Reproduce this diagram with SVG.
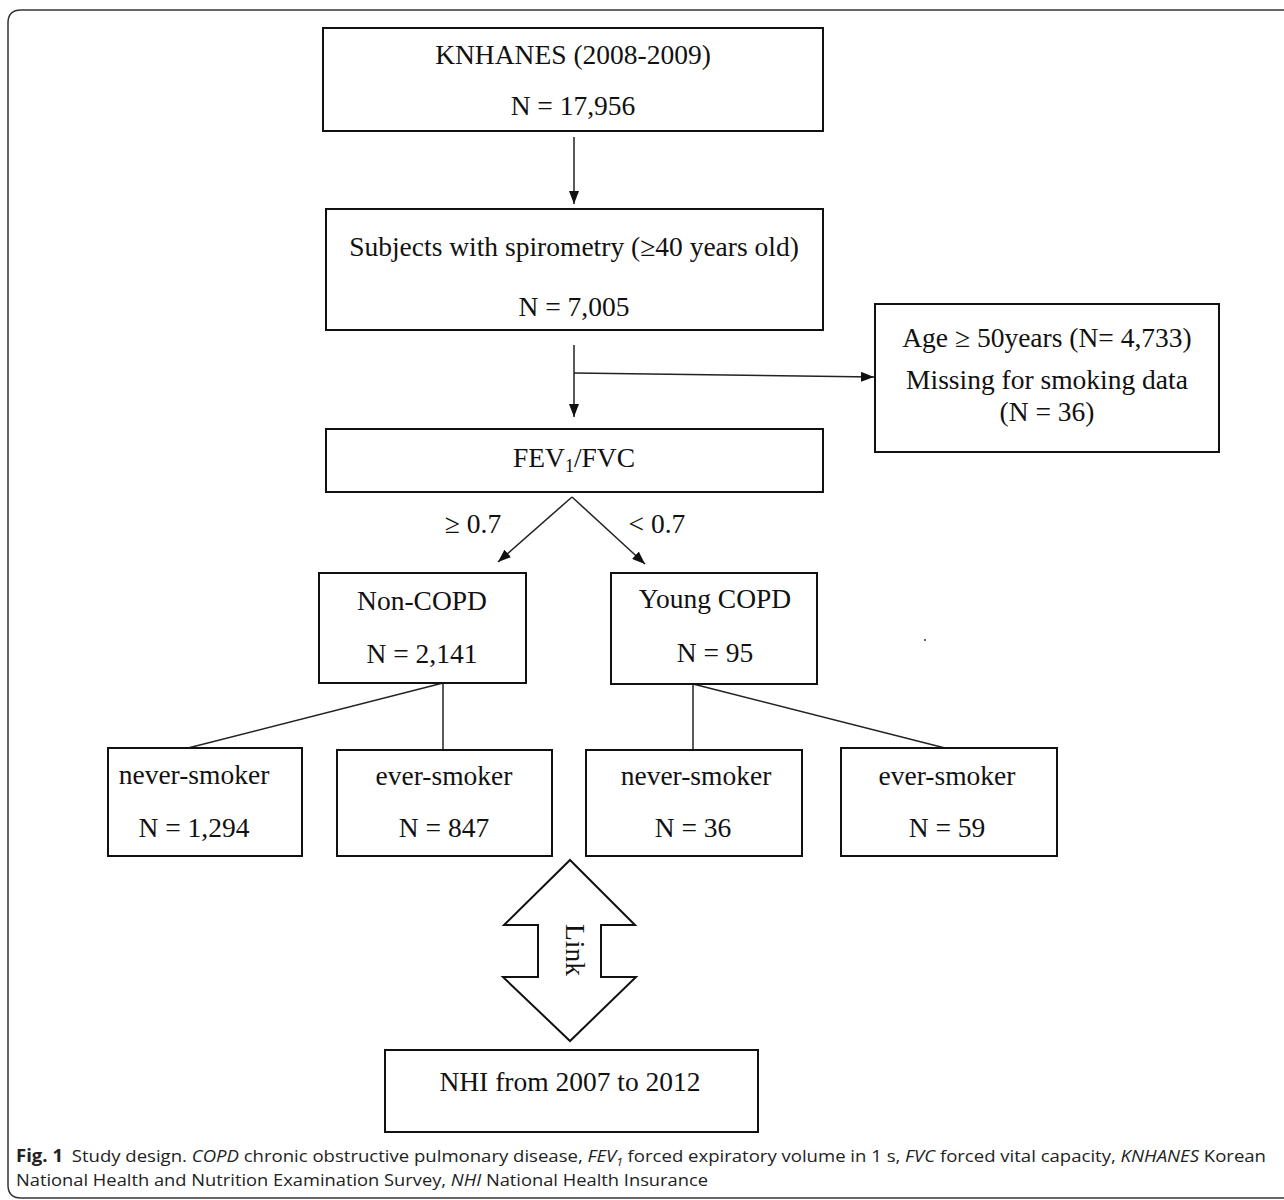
<svg xmlns="http://www.w3.org/2000/svg" width="1284" height="1200" viewBox="0 0 1284 1200">
<style>
.box{fill:#fff;stroke:#111;stroke-width:2}
.t{font-family:"Liberation Serif","Times New Roman",serif;font-size:27.5px;fill:#111;text-anchor:middle}
.ln{stroke:#222;stroke-width:1.5;fill:none}
.cap{font-family:"Open Sans","Noto Sans",sans-serif;font-size:17px;fill:#222}
</style>
<defs>
<marker id="ah" viewBox="0 0 13 10" refX="13" refY="5" markerWidth="13" markerHeight="10" markerUnits="userSpaceOnUse" orient="auto">
<path d="M0,0 L13,5 L0,10 Z" fill="#111"/>
</marker>
</defs>
<rect width="1284" height="1200" fill="#fff"/>
<path d="M1284,10 H21 Q8,10 8,23 V1185 Q8,1198 21,1198 H1284" fill="none" stroke="#333" stroke-width="1.5"/>

<g id="connectors">
<line class="ln" x1="574" y1="137" x2="574" y2="204" marker-end="url(#ah)"/>
<line class="ln" x1="574" y1="345" x2="574" y2="417" marker-end="url(#ah)"/>
<line class="ln" x1="574" y1="373" x2="874" y2="377" marker-end="url(#ah)"/>
<line class="ln" x1="572" y1="497" x2="498" y2="562" marker-end="url(#ah)"/>
<line class="ln" x1="572" y1="497" x2="645" y2="564" marker-end="url(#ah)"/>
<line class="ln" x1="443" y1="683" x2="188" y2="748"/>
<line class="ln" x1="443" y1="683" x2="443" y2="750"/>
<line class="ln" x1="693" y1="684" x2="693" y2="750"/>
<line class="ln" x1="693" y1="684" x2="945" y2="748"/>
</g>

<g id="labels">
<text class="t" x="473" y="533">≥ 0.7</text>
<text class="t" x="657" y="533">&lt; 0.7</text>
</g>

<g id="n-knhanes">
<rect class="box" x="323" y="28" width="500" height="103"/>
<text class="t" x="573" y="64">KNHANES (2008-2009)</text>
<text class="t" x="573" y="115">N = 17,956</text>
</g>
<g id="n-subjects">
<rect class="box" x="326" y="209" width="497" height="121"/>
<text class="t" x="574" y="256">Subjects with spirometry (≥40 years old)</text>
<text class="t" x="574" y="316">N = 7,005</text>
</g>
<g id="n-excluded">
<rect class="box" x="875" y="304" width="344" height="148"/>
<text class="t" x="1047" y="347">Age ≥ 50years (N= 4,733)</text>
<text class="t" x="1047" y="389">Missing for smoking data</text>
<text class="t" x="1047" y="421">(N = 36)</text>
</g>
<g id="n-ratio">
<rect class="box" x="326" y="429" width="497" height="63"/>
<text class="t" x="574" y="467">FEV<tspan font-size="18" dy="5">1</tspan><tspan dy="-5">/FVC</tspan></text>
</g>
<g id="n-noncopd">
<rect class="box" x="319" y="573" width="207" height="110"/>
<text class="t" x="422" y="610">Non-COPD</text>
<text class="t" x="422" y="663">N = 2,141</text>
</g>
<g id="n-youngcopd">
<rect class="box" x="611" y="573" width="206" height="111"/>
<text class="t" x="715" y="608">Young COPD</text>
<text class="t" x="715" y="662">N = 95</text>
</g>
<circle cx="925" cy="640" r="1" fill="#333"/>
<g id="n-never1">
<rect class="box" x="108" y="748" width="194" height="108"/>
<text class="t" x="194" y="784">never-smoker</text>
<text class="t" x="194" y="837">N = 1,294</text>
</g>
<g id="n-ever1">
<rect class="box" x="337" y="750" width="215" height="106"/>
<text class="t" x="444" y="785">ever-smoker</text>
<text class="t" x="444" y="837">N = 847</text>
</g>
<g id="n-never2">
<rect class="box" x="586" y="750" width="216" height="106"/>
<text class="t" x="696" y="785">never-smoker</text>
<text class="t" x="693" y="837">N = 36</text>
</g>
<g id="n-ever2">
<rect class="box" x="841" y="748" width="216" height="108"/>
<text class="t" x="947" y="785">ever-smoker</text>
<text class="t" x="947" y="837">N = 59</text>
</g>
<g id="n-link">
<polygon points="570,860 635,925 601,925 601,977 636,977 570,1041 503,977 538,977 538,925 504,925" fill="#fff" stroke="#111" stroke-width="2"/>
<text class="t" transform="translate(575,950) rotate(90)" y="9">Link</text>
</g>
<g id="n-nhi">
<rect class="box" x="385" y="1050" width="373" height="82"/>
<text class="t" x="570" y="1091">NHI from 2007 to 2012</text>
</g>

<g id="caption">
<text class="cap" x="16" y="1162" textLength="1250" lengthAdjust="spacingAndGlyphs"><tspan font-weight="bold">Fig. 1</tspan><tspan dx="8">Study design. </tspan><tspan font-style="italic">COPD</tspan> chronic obstructive pulmonary disease, <tspan font-style="italic">FEV</tspan><tspan font-style="italic" font-size="11" dy="4">1</tspan><tspan dy="-4"> forced expiratory volume in 1 s, </tspan><tspan font-style="italic">FVC</tspan> forced vital capacity, <tspan font-style="italic">KNHANES</tspan> Korean</text>
<text class="cap" x="16" y="1186" textLength="692" lengthAdjust="spacingAndGlyphs">National Health and Nutrition Examination Survey, <tspan font-style="italic">NHI</tspan> National Health Insurance</text>
</g>
</svg>
